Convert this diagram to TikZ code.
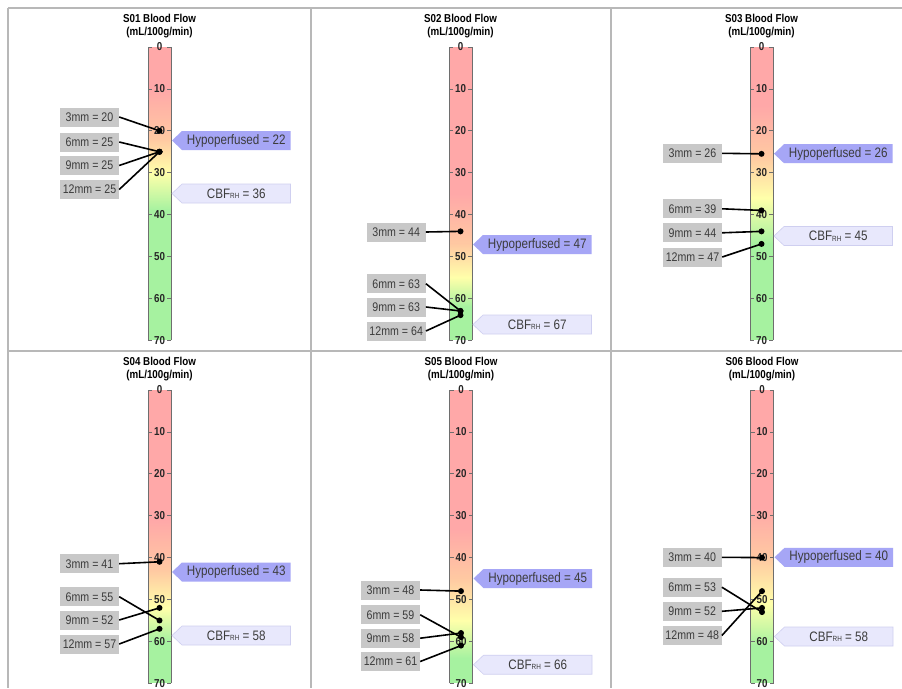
\documentclass[tikz,border=0pt]{standalone}
\usepackage{fontspec}
\setmainfont{Liberation Sans}[FakeStretch=0.85]
\definecolor{gridgray}{HTML}{B8B8B8}
\definecolor{barred}{HTML}{FFA8A8}
\definecolor{barorange}{HTML}{FFC9A2}
\definecolor{baryellow}{HTML}{FFFFAA}
\definecolor{bargreen}{HTML}{A6F2A0}
\definecolor{barline}{HTML}{6E6E6E}
\definecolor{labfill}{HTML}{C8C8C8}
\definecolor{labtext}{HTML}{3C3C3C}
\definecolor{hypofill}{HTML}{A6A6F6}
\definecolor{cbffill}{HTML}{E8E8FC}
\definecolor{cbfdraw}{HTML}{CFCFF0}
\def\vy#1{-(39+(#1)*4.19)}
\tikzset{
  gridline/.style={draw=gridgray,line width=1.2pt},
  axisline/.style={draw=barline,line width=0.8pt},
  ticklab/.style={inner sep=0pt,font=\bfseries\fontsize{11.5}{12}\selectfont,text=black!85},
  titlelab/.style={inner sep=0pt,align=center,font=\bfseries\fontsize{11.5}{13}\selectfont},
  mmbox/.style={fill=labfill,text=labtext,minimum width=59pt,minimum height=19pt,inner sep=0pt,font=\fontsize{12.5}{13}\selectfont},
  dot/.style={circle,fill=black,minimum size=6pt,inner sep=0pt},
  conn/.style={draw=black,line width=1.6pt},
  hypotext/.style={inner sep=0pt,text=labtext,font=\fontsize{13.7}{14}\selectfont},
}
\newcommand{\drawbar}[6]{%
 \begin{scope}[shift={(#1,-#2)}]
  \fill[barorange] (-11.5,{\vy{0}}) rectangle (11.5,{\vy{70}});
  \fill[barred] (-11.5,{\vy{0}}) rectangle (11.5,{\vy{#4-12}});
  \shade[top color=barred,bottom color=barorange] (-11.5,{\vy{#4-12}}) rectangle (11.5,{\vy{#4}});
  \shade[top color=barorange,bottom color=baryellow] (-11.5,{\vy{#4}}) rectangle (11.5,{\vy{#5}});
  \shade[top color=baryellow,bottom color=bargreen] (-11.5,{\vy{#5}}) rectangle (11.5,{\vy{#6}});
  \fill[bargreen] (-11.5,{\vy{#6}}) rectangle (11.5,{\vy{70}});
  \draw[axisline] (-11.5,{\vy{0}}) -- (-11.5,{\vy{70}}) (11.5,{\vy{0}}) -- (11.5,{\vy{70}});
  \foreach \t in {0,10,...,70}{
    \draw[axisline] (-11.5,{\vy{\t}}) -- ++(4,0) (11.5,{\vy{\t}}) -- ++(-4,0);
    \node[ticklab] (t#3-\t) at (0,{\vy{\t}}) {\t};
  }
  \node[titlelab] (title#3) at (0,-18.5) {S0#3 Blood Flow\\(mL/100g/min)};
 \end{scope}}
% #1 id, #2 cx, #3 y0, #4 box left offset, #5 box yc, #6 text, #7 value
\newcommand{\mmlab}[7]{%
  \node[mmbox] (lab#1) at ({#2+#4+29.5},{-(#5)}) {#6};
  \node[dot] (dot#1) at (#2,{-(#3+39+(#7)*4.19)}) {};
  \draw[conn] (lab#1.east) -- (dot#1.center);}
% #1 id, #2 cx, #3 yc, #4 value
\newcommand{\hypolab}[4]{%
  \fill[hypofill] ({#2+12.5},{-(#3)}) -- ({#2+22.5},{-(#3)+9.5}) -- ({#2+131},{-(#3)+9.5}) -- ({#2+131},{-(#3)-9.5}) -- ({#2+22.5},{-(#3)-9.5}) -- cycle;
  \node[hypotext] (hypo#1) at ({#2+76.75},{-(#3)}) {Hypoperfused = #4};}
\newcommand{\cbflab}[4]{%
  \filldraw[fill=cbffill,draw=cbfdraw,line width=0.6pt] ({#2+12.5},{-(#3)}) -- ({#2+22.5},{-(#3)+9.5}) -- ({#2+131},{-(#3)+9.5}) -- ({#2+131},{-(#3)-9.5}) -- ({#2+22.5},{-(#3)-9.5}) -- cycle;
  \node[hypotext] (cbf#1) at ({#2+76.75},{-(#3)}) {CBF{\fontsize{7.5}{8}\selectfont\raisebox{-0.5pt}{RH}} = #4};}
\begin{document}
\begin{tikzpicture}[x=1pt,y=1pt]
\useasboundingbox (0,0) rectangle (902,-688);
\fill[white] (0,0) rectangle (902,-688);
% grid
\draw[gridline] (8,-8) -- (902,-8);
\draw[gridline] (8,-351) -- (902,-351);
\draw[gridline] (8,-8) -- (8,-688);
\draw[gridline] (311,-8) -- (311,-688);
\draw[gridline] (611,-8) -- (611,-688);
% S01
\drawbar{159.5}{8}{1}{22}{30}{39}
\hypolab{1}{159.5}{140.5}{22}
\cbflab{1}{159.5}{193.5}{36}
\mmlab{1a}{159.5}{8}{-99.5}{117}{3mm = 20}{20}
\mmlab{1b}{159.5}{8}{-99.5}{142}{6mm = 25}{25}
\mmlab{1c}{159.5}{8}{-99.5}{165.5}{9mm = 25}{25}
\mmlab{1d}{159.5}{8}{-99.5}{189.5}{12mm = 25}{25}
% S02
\drawbar{460.5}{8}{2}{47}{55}{62}
\hypolab{2}{460.5}{244.5}{47}
\cbflab{2}{460.5}{324.5}{67}
\mmlab{2a}{460.5}{8}{-93.8}{232}{3mm = 44}{44}
\mmlab{2b}{460.5}{8}{-93.8}{283.7}{6mm = 63}{63}
\mmlab{2c}{460.5}{8}{-93.8}{307}{9mm = 63}{63}
\mmlab{2d}{460.5}{8}{-93.8}{331}{12mm = 64}{64}
% S03
\drawbar{761.5}{8}{3}{26}{36}{47}
\hypolab{3}{761.5}{153.7}{26}
\cbflab{3}{761.5}{236}{45}
\mmlab{3a}{761.5}{8}{-98.5}{153.3}{3mm = 26}{25.5}
\mmlab{3b}{761.5}{8}{-98.5}{208.8}{6mm = 39}{39}
\mmlab{3c}{761.5}{8}{-98.5}{232.8}{9mm = 44}{44}
\mmlab{3d}{761.5}{8}{-98.5}{257}{12mm = 47}{47}
% S04
\drawbar{159.5}{351}{4}{43}{52}{60}
\hypolab{4}{159.5}{572}{43}
\cbflab{4}{159.5}{635.5}{58}
\mmlab{4a}{159.5}{351}{-99.5}{563.7}{3mm = 41}{41}
\mmlab{4b}{159.5}{351}{-99.5}{596.7}{6mm = 55}{55}
\mmlab{4c}{159.5}{351}{-99.5}{620}{9mm = 52}{52}
\mmlab{4d}{159.5}{351}{-99.5}{644}{12mm = 57}{57}
% S05
\drawbar{461}{351}{5}{45}{55}{64}
\hypolab{5}{461}{578.5}{45}
\cbflab{5}{461}{664.7}{66}
\mmlab{5a}{461}{351}{-100}{590}{3mm = 48}{48}
\mmlab{5b}{461}{351}{-100}{614.8}{6mm = 59}{59}
\mmlab{5c}{461}{351}{-100}{638.2}{9mm = 58}{58}
\mmlab{5d}{461}{351}{-100}{661.5}{12mm = 61}{61}
% S06
\drawbar{762}{351}{6}{40}{51}{61}
\hypolab{6}{762}{557.3}{40}
\cbflab{6}{762}{636.5}{58}
\mmlab{6a}{762}{351}{-99.3}{557.3}{3mm = 40}{40}
\mmlab{6b}{762}{351}{-99.3}{587.2}{6mm = 53}{53}
\mmlab{6c}{762}{351}{-99.3}{611.3}{9mm = 52}{52}
\mmlab{6d}{762}{351}{-99.3}{635.5}{12mm = 48}{48}
\end{tikzpicture}
\end{document}
